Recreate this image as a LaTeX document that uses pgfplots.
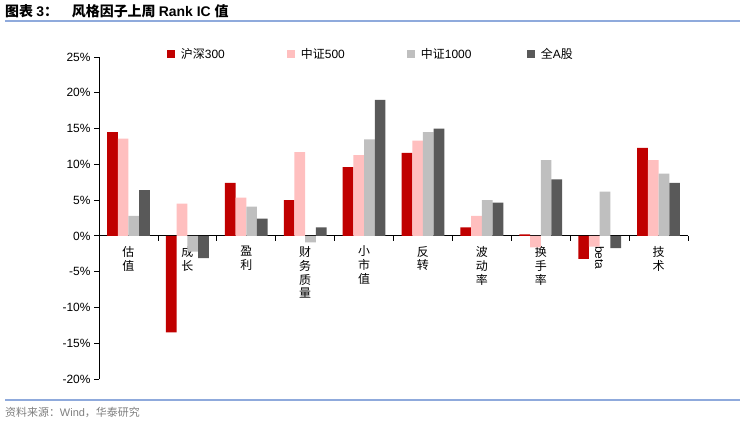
\documentclass[border=0pt]{standalone}
\usepackage{fontspec}
\setmainfont{Liberation Sans}
\newfontfamily\cjk{Noto Sans CJK SC}
\usepackage{graphicx}
\usepackage{pgfplots}
\pgfplotsset{compat=1.18}

\definecolor{cHS}{HTML}{C00000}
\definecolor{cZZ5}{HTML}{FFBFBF}
\definecolor{cZZ1}{HTML}{BFBFBF}
\definecolor{cQA}{HTML}{595959}
\definecolor{cLine}{HTML}{8FAADC}
\definecolor{cSrc}{HTML}{7F7F7F}

\begin{document}
\begin{tikzpicture}
\path[use as bounding box] (0,0) rectangle (745bp,422bp);

% title and rules
\node[anchor=west, inner sep=0pt, font=\fontsize{14}{16}\selectfont\bfseries] at (5bp,411bp)
  {{\cjk\bfseries 图表 }3{\cjk\bfseries ：\quad 风格因子上周 }Rank IC {\cjk\bfseries 值}};
\draw[cLine, line width=1.2bp] (5bp,401bp) -- (740bp,401bp);
\draw[cLine, line width=1.2bp] (5bp,22bp) -- (740bp,22bp);
\node[anchor=west, inner sep=0pt, text=cSrc, font=\fontsize{11}{13}\selectfont] at (5bp,10bp)
  {{\cjk 资料来源：}Wind{\cjk ，华泰研究}};

\begin{axis}[
  at={(99bp,43bp)}, anchor=south west,
  scale only axis, width=589bp, height=322bp,
  xmin=-0.5, xmax=9.5, ymin=-20, ymax=25,
  ytick={-20,-15,...,25},
  yticklabel={\pgfmathparse{int(\tick)}\pgfmathresult\%},
  yticklabel style={font=\fontsize{12}{14}\selectfont},
  axis y line*=left, axis x line*=middle,
  axis line style={-, line width=0.8pt, black},
  hide obscured x ticks=false, hide obscured y ticks=false,
  tick align=outside,
  major tick length=5bp, minor tick length=5bp,
  tick style={black, line width=0.8pt},
  xtick={0,...,9},
  major x tick style={draw=none},
  minor xtick={0.5,1.5,...,9.5},
  xticklabels={{估\\值},{成\\长},{盈\\利},{财\\务\\质\\量},{小\\市\\值},{反\\转},{波\\动\\率},{换\\手\\率},{\rotatebox{-90}{\fontspec{Liberation Sans}beta}},{技\\术}},
  xticklabel style={font=\cjk\fontsize{12}{14}\selectfont, align=center, anchor=north, inner sep=1bp, yshift=-4bp},
  ybar=0pt, bar width=10.7bp,
  legend columns=4,
  legend style={at={(0.11,1.009)}, anchor=west, draw=none, fill=none,
    nodes={inner sep=0pt}, font=\fontsize{12}{14}\selectfont},
  legend image code/.code={\fill[#1] (0bp,-4bp) rectangle (8bp,4bp);},
]
\addplot[fill=cHS, draw=none] coordinates {
  (0,14.5) (1,-13.5) (2,7.4) (3,5.0) (4,9.6) (5,11.6) (6,1.2) (7,0.2) (8,-3.2) (9,12.3)};
\addlegendentry{\makebox[112bp][l]{\hspace{6bp}{\cjk 沪深}300}}
\addplot[fill=cZZ5, draw=none] coordinates {
  (0,13.6) (1,4.5) (2,5.35) (3,11.7) (4,11.3) (5,13.3) (6,2.8) (7,-1.6) (8,-1.5) (9,10.6)};
\addlegendentry{\makebox[112bp][l]{\hspace{6bp}{\cjk 中证}500}}
\addplot[fill=cZZ1, draw=none] coordinates {
  (0,2.8) (1,-2.2) (2,4.1) (3,-0.9) (4,13.5) (5,14.5) (6,5.0) (7,10.6) (8,6.2) (9,8.7)};
\addlegendentry{\makebox[112bp][l]{\hspace{6bp}{\cjk 中证}1000}}
\addplot[fill=cQA, draw=none] coordinates {
  (0,6.4) (1,-3.1) (2,2.4) (3,1.2) (4,19.0) (5,15.0) (6,4.65) (7,7.9) (8,-1.7) (9,7.4)};
\addlegendentry{\makebox[60bp][l]{\hspace{6bp}{\cjk 全}A{\cjk 股}}}
\end{axis}
\end{tikzpicture}
\end{document}
